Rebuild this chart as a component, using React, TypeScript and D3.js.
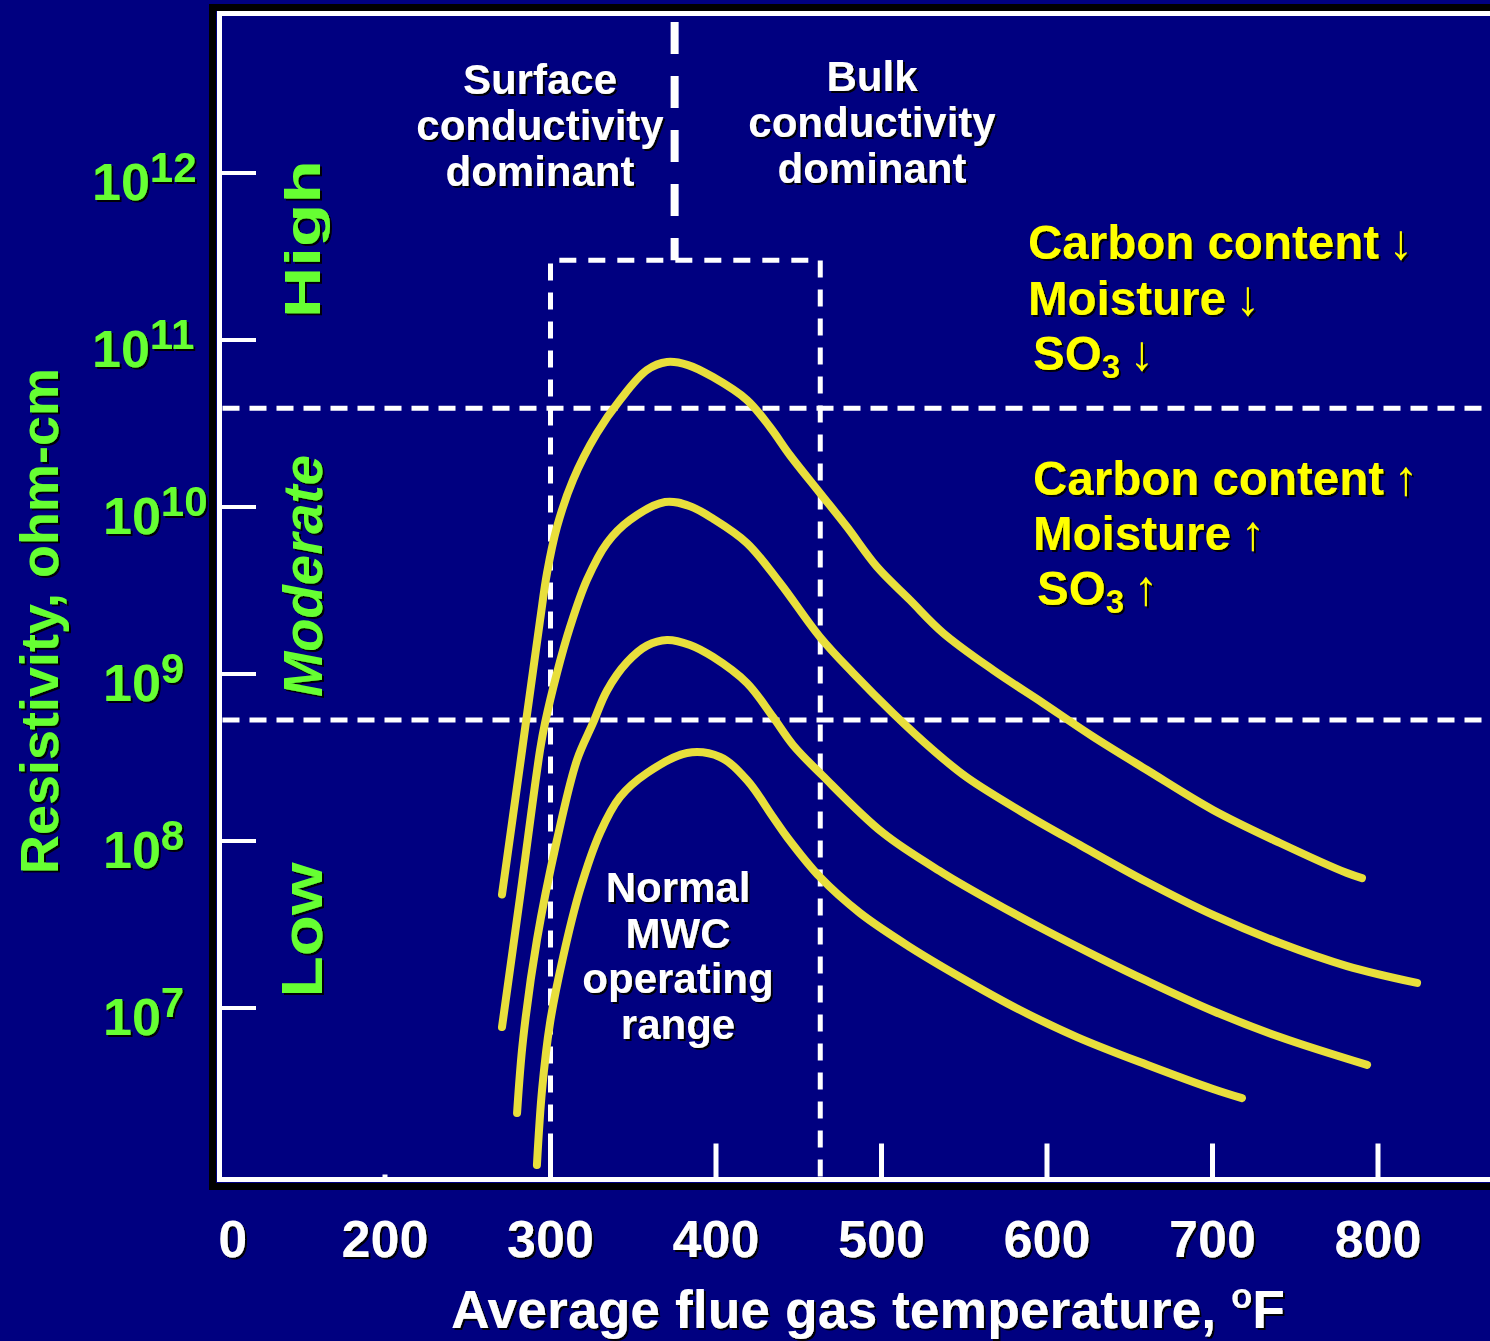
import React from "react";
import * as d3 from "d3";

const W = 1490;
const H = 1341;

// ---- axis data ----
const yTickExponents = [12, 11, 10, 9, 8, 7];
const xTickValues = [200, 300, 400, 500, 600, 700, 800];
const xTickLabels = ["200", "300", "400", "500", "600", "700", "800"];
const xBreakLabel = "0";
const xBreakValue = 108;

// ---- curves: temperature (°F) and log10 resistivity (ohm-cm) ----
const curve1Temp = [270.7, 281.6, 293.7, 297.9, 303.9, 313.6, 328.1, 342, 358.3, 370.4, 383.1, 398.2, 418.7, 432.6, 444.7, 462.8, 479.2, 497.3, 517.2, 537.2, 567.4, 597.6, 627.8, 660.4, 700.3, 740.8, 781.3, 790.3];
const curve1LogRes = [7.68, 8.455, 9.323, 9.605, 9.88, 10.162, 10.443, 10.641, 10.82, 10.868, 10.85, 10.778, 10.641, 10.479, 10.31, 10.084, 9.88, 9.641, 9.443, 9.246, 9.024, 8.826, 8.625, 8.425, 8.186, 7.988, 7.808, 7.778];

const curve2Temp = [270.7, 281.6, 293.7, 296.7, 303.9, 311.8, 322, 334.1, 348, 369.2, 384.3, 398.2, 418.7, 438.7, 462.8, 482.8, 506.9, 531.1, 551.7, 587.9, 619.9, 660.4, 700.3, 740.8, 781.3, 823.6];
const curve2LogRes = [6.886, 7.665, 8.545, 8.707, 9.006, 9.281, 9.563, 9.784, 9.922, 10.03, 10.005, 9.93, 9.784, 9.545, 9.222, 9.006, 8.766, 8.545, 8.38, 8.156, 7.976, 7.754, 7.557, 7.389, 7.251, 7.15];

const curve3Temp = [279.8, 283.4, 291.8, 303.9, 316, 325.7, 334.1, 346.2, 358.3, 370.4, 384.3, 398.2, 418.7, 434.4, 446.5, 464, 500.9, 537.2, 567.4, 597.6, 632, 660.4, 700.3, 740.8, 793.4];
const curve3LogRes = [6.371, 6.808, 7.407, 8.006, 8.485, 8.707, 8.9, 9.07, 9.17, 9.204, 9.174, 9.102, 8.946, 8.743, 8.575, 8.395, 8.048, 7.808, 7.635, 7.473, 7.299, 7.162, 6.982, 6.826, 6.659];

const curve4Temp = [291.8, 294.9, 299.7, 307.6, 317.8, 329.9, 342, 358.3, 382.5, 402.4, 418.7, 434.4, 442.9, 462.8, 487, 517.2, 547.4, 583.7, 618.1, 660.4, 700.3, 717.8];
const curve4LogRes = [6.06, 6.509, 6.91, 7.305, 7.707, 8.048, 8.263, 8.407, 8.527, 8.503, 8.365, 8.144, 8.024, 7.784, 7.569, 7.365, 7.186, 6.988, 6.826, 6.66, 6.515, 6.46];

const curveTemps = [curve1Temp, curve2Temp, curve3Temp, curve4Temp];
const curveLogs = [curve1LogRes, curve2LogRes, curve3LogRes, curve4LogRes];

// ---- regions ----
const boundaryHighModerate = 3.9e10;
const boundaryModerateLow = 5.3e8;
const boxTempMin = 300;
const boxTempMax = 463;
const boxTopRes = 3.0e11;
const conductivityDivideTemp = 375;

const regionLabels = ["High", "Moderate", "Low"];
const surfaceLines = ["Surface", "conductivity", "dominant"];
const bulkLines = ["Bulk", "conductivity", "dominant"];
const normalLines = ["Normal", "MWC", "operating", "range"];
const downFactors = ["Carbon content", "Moisture", "SO"];
const upFactors = ["Carbon content", "Moisture", "SO"];

const BG = "#000080";
const GREEN = "#66FF33";
const YELLOW = "#FFFF00";
const CURVE = "#E8DF3C";
const FONT = "'Liberation Sans', Arial, Helvetica, sans-serif";

export default function App() {
  const x = d3.scaleLinear().domain([200, 800]).range([385, 1378]);
  const y = d3.scaleLog().domain([1e6, 1e12]).range([1175, 173]);

  const axisLeft = 219.5;
  const axisTop = 13.5;
  const axisBottom = 1179.5;

  const line = d3
    .line<[number, number]>()
    .x((d) => x(d[0]))
    .y((d) => y(Math.pow(10, d[1])))
    .curve(d3.curveCatmullRom.alpha(0.5));

  const curves = curveTemps.map((ts, i) =>
    line(ts.map((t, j) => [t, curveLogs[i][j]] as [number, number]))
  );

  const bx0 = x(boxTempMin);
  const bx1 = x(boxTempMax);
  const byTop = y(boxTopRes);
  const divX = x(conductivityDivideTemp);

  const arrowSize = 49;

  return (
    <div style={{ position: "absolute", left: 0, top: 0, width: W, height: H }}>
      <svg width={W} height={H} style={{ display: "block" }} fontFamily={FONT}>
        <defs>
          <filter id="sh" x="-10%" y="-10%" width="120%" height="130%">
            <feDropShadow dx="2" dy="2" stdDeviation="0.7" floodColor="#000" floodOpacity="0.95" />
          </filter>
        </defs>
        <rect x={0} y={0} width={W} height={H} fill={BG} />

        {/* frame */}
        <path d={`M ${W + 10} 7.5 H 212.5 V 1186.5 H ${W + 10}`} fill="none" stroke="#000" strokeWidth={7} />
        <path d={`M ${W + 10} ${axisTop} H ${axisLeft} V ${axisBottom} H ${W + 10}`} fill="none" stroke="#fff" strokeWidth={5} />

        {/* y ticks */}
        {yTickExponents.map((e) => (
          <line key={e} x1={axisLeft} x2={256} y1={y(Math.pow(10, e))} y2={y(Math.pow(10, e))} stroke="#fff" strokeWidth={4} />
        ))}
        {/* x ticks */}
        {xTickValues.map((v) => (
          <line key={v} x1={x(v)} x2={x(v)} y1={axisBottom} y2={axisBottom - (v === 200 ? 5 : 36)} stroke="#fff" strokeWidth={5} />
        ))}

        {/* region boundary dashed lines */}
        {[boundaryHighModerate, boundaryModerateLow].map((b) => (
          <line key={b} x1={axisLeft + 3} x2={W} y1={y(b)} y2={y(b)} stroke="#fff" strokeWidth={5} strokeDasharray="17 10" />
        ))}
        {/* operating range box */}
        <path d={`M ${bx0} ${axisBottom} V ${byTop} H ${bx1} V ${axisBottom}`} fill="none" stroke="#fff" strokeWidth={5} strokeDasharray="17 12" />
        {/* surface / bulk divide */}
        <line x1={divX} x2={divX} y1={22} y2={byTop} stroke="#fff" strokeWidth={8} strokeDasharray="32 22" />

        {/* curves */}
        {curves.map((d, i) => (
          <path key={i} d={d || ""} fill="none" stroke={CURVE} strokeWidth={8} strokeLinecap="round" strokeLinejoin="round" />
        ))}

        <g filter="url(#sh)" fontWeight="bold">
          {/* y tick labels */}
          {yTickExponents.map((e) => (
            <text key={e} x={e > 10 ? 92 : 103} y={y(Math.pow(10, e)) + 27} fontSize={52} fill={GREEN}>
              10
              <tspan fontSize={42} dy={-18}>{e}</tspan>
            </text>
          ))}
          {/* x tick labels */}
          {xTickValues.map((v, i) => (
            <text key={v} x={x(v)} y={1257} fontSize={52} fill="#fff" textAnchor="middle">
              {xTickLabels[i]}
            </text>
          ))}
          <text x={x(xBreakValue)} y={1257} fontSize={52} fill="#fff" textAnchor="middle">
            {xBreakLabel}
          </text>

          {/* axis titles */}
          <text x={868} y={1328} fontSize={53.5} fill="#fff" textAnchor="middle">
            Average flue gas temperature,{" "}
            <tspan fontSize={35} dy={-20}>o</tspan>
            <tspan dy={20}>F</tspan>
          </text>
          <text transform="translate(58,621) rotate(-90)" fontSize={54} fill={GREEN} textAnchor="middle">
            Resistivity, ohm-cm
          </text>

          {/* region labels */}
          <text transform="translate(320,239) rotate(-90)" fontSize={50} fill={GREEN} textAnchor="middle" textLength={158} lengthAdjust="spacingAndGlyphs">
            {regionLabels[0]}
          </text>
          <text transform="translate(322,576) rotate(-90)" fontSize={56} fontStyle="italic" fill={GREEN} textAnchor="middle" textLength={242} lengthAdjust="spacingAndGlyphs">
            {regionLabels[1]}
          </text>
          <text transform="translate(322,930) rotate(-90)" fontSize={58} fill={GREEN} textAnchor="middle" textLength={135} lengthAdjust="spacingAndGlyphs">
            {regionLabels[2]}
          </text>

          {/* conductivity notes */}
          {surfaceLines.map((s, i) => (
            <text key={"s" + i} x={540} y={94 + i * 46} fontSize={42} fill="#fff" textAnchor="middle">{s}</text>
          ))}
          {bulkLines.map((s, i) => (
            <text key={"b" + i} x={872} y={91 + i * 46} fontSize={42} fill="#fff" textAnchor="middle">{s}</text>
          ))}
          {normalLines.map((s, i) => (
            <text key={"n" + i} x={678} y={902 + i * 45.5} fontSize={42} fill="#fff" textAnchor="middle">{s}</text>
          ))}

          {/* factor notes */}
          {downFactors.map((s, i) => (
            <text key={"d" + i} x={i === 2 ? 1033 : 1028} y={259 + i * 55.5} fontSize={47.5} fill={YELLOW}>
              {s}
              {i === 2 ? (
                <>
                  <tspan fontSize={33} dy={8}>3</tspan>
                  <tspan dy={-8} fontWeight="normal" fontSize={arrowSize}>{"\u2009\u2193"}</tspan>
                </>
              ) : (
                <tspan fontWeight="normal" fontSize={arrowSize}>{"\u2009\u2193"}</tspan>
              )}
            </text>
          ))}
          {upFactors.map((s, i) => (
            <text key={"u" + i} x={i === 2 ? 1037 : 1033} y={495 + i * 55} fontSize={47.5} fill={YELLOW}>
              {s}
              {i === 2 ? (
                <>
                  <tspan fontSize={33} dy={8}>3</tspan>
                  <tspan dy={-8} fontWeight="normal" fontSize={arrowSize}>{"\u2009\u2191"}</tspan>
                </>
              ) : (
                <tspan fontWeight="normal" fontSize={arrowSize}>{"\u2009\u2191"}</tspan>
              )}
            </text>
          ))}
        </g>
      </svg>
    </div>
  );
}
